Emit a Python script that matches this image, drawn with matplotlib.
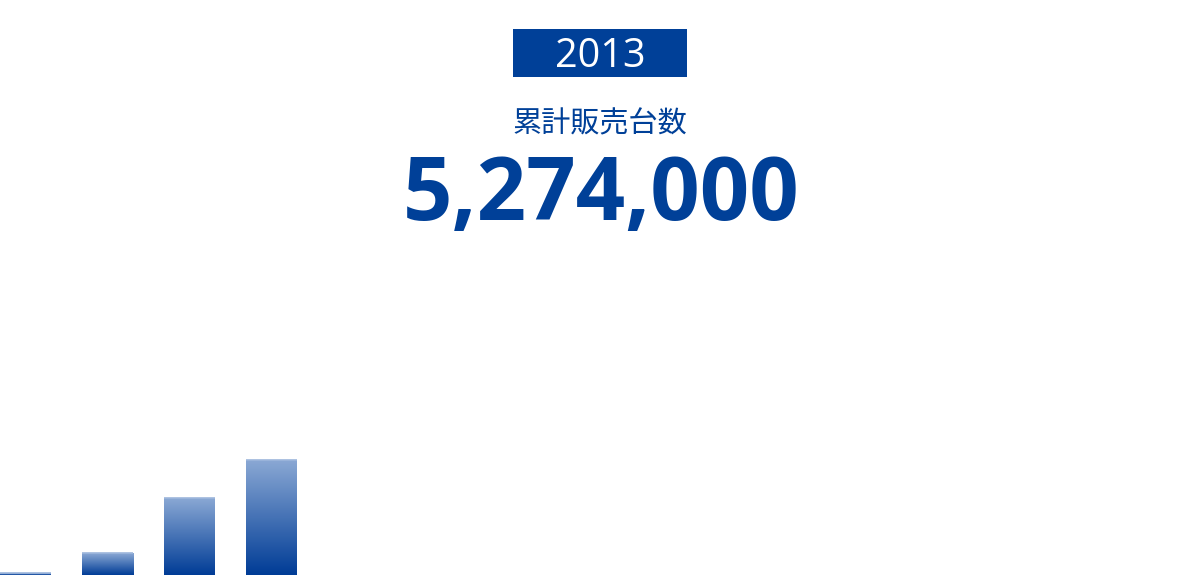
import numpy as np
import matplotlib
matplotlib.use("Agg")
import matplotlib.pyplot as plt
from matplotlib.patches import Rectangle
from matplotlib.colors import LinearSegmentedColormap

# ---- data ----
categories = ["2010", "2011", "2012", "2013"]
values = [2, 22, 77, 115]          # bar heights (relative units)
year_label = "2013"
caption = "累計販売台数"
total_label = "5,274,000"

BLUE = "#004098"

fig = plt.figure(figsize=(12, 5.75), dpi=100)
ax = fig.add_axes([0, 0, 1, 1])
ax.set_axis_off()

spacing_px = 82.0
bar_w = 51.0 / spacing_px
left = -25.5 / spacing_px

cmap = LinearSegmentedColormap.from_list("grad", ["#003c96", "#8aa8d4"])
grad = np.linspace(0, 1, 256).reshape(-1, 1)

x = np.arange(len(categories))
bars = ax.bar(x, values, width=bar_w, color="none", edgecolor="none")
for b in bars:
    x0, y0 = b.get_x(), b.get_y()
    w, h = b.get_width(), b.get_height()
    im = ax.imshow(grad, cmap=cmap, origin="lower", aspect="auto",
                   extent=(x0, x0 + w, y0, y0 + h), zorder=2)
    im.set_clip_path(b)
    ax.plot([x0, x0 + w], [y0 + h, y0 + h], color="#9db6dc", lw=1.2, zorder=3,
            solid_capstyle="butt")
ax.set_xlim(left, left + 1200.0 / spacing_px)
ax.set_ylim(0, 575)

# ---- header texts ----
H = 575.0
W = 1200.0
fig.patches.append(Rectangle((513 / W, 1 - 77 / H), (687 - 513) / W, (77 - 29) / H,
                             transform=fig.transFigure, facecolor=BLUE,
                             edgecolor="none", zorder=5))
fig.text(600 / W, 1 - 67 / H, year_label, ha="center", va="baseline",
         color="white", fontsize=28.5, fontweight="medium",
         family=["Open Sans", "DejaVu Sans"], zorder=6)
fig.text(600 / W, 1 - 124.5 / H, caption, ha="center", va="center",
         color=BLUE, fontsize=21, fontweight="normal",
         family=["Noto Sans CJK JP", "DejaVu Sans"])
fig.text(601 / W, 1 - 220 / H, total_label, ha="center", va="baseline",
         color=BLUE, fontsize=62.5, fontweight="bold",
         family=["Open Sans", "DejaVu Sans"])

fig.savefig("out.png", dpi=100)
